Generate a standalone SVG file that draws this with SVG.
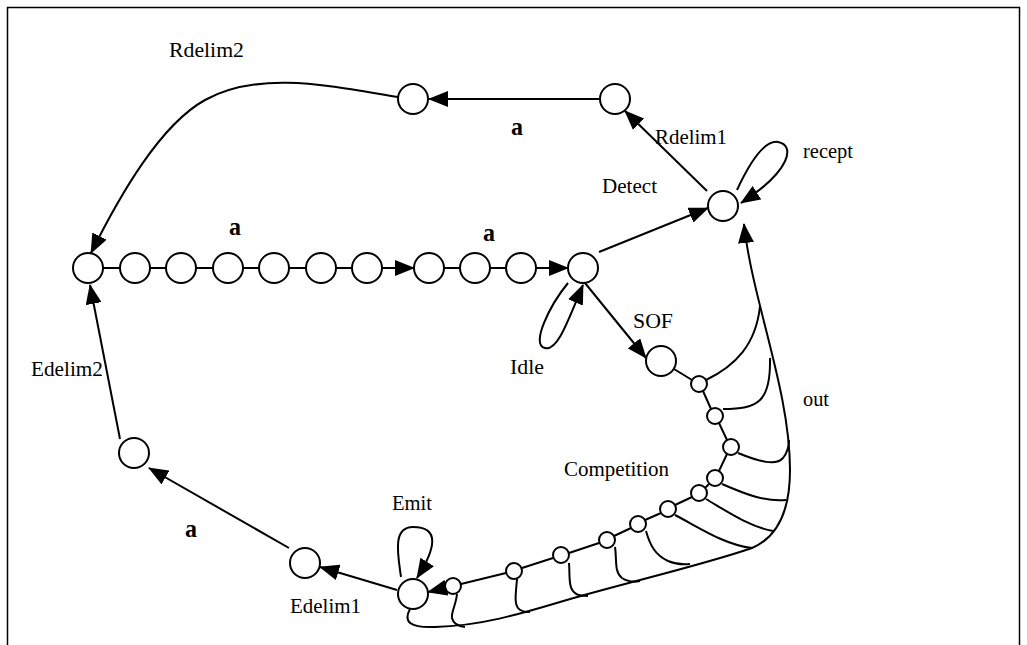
<svg xmlns="http://www.w3.org/2000/svg" width="1027" height="645" viewBox="0 0 1027 645">
<style>
.n{fill:#fff;stroke:#000;stroke-width:2}
.e{fill:none;stroke:#000;stroke-width:2}
.a{marker-end:url(#ah)}
.t{font-family:"Liberation Serif","Times New Roman",serif;font-size:22px;fill:#000}
.b{font-weight:bold;font-size:26px}
</style>
<defs>
<marker id="ah" markerUnits="userSpaceOnUse" viewBox="0 0 20 16" markerWidth="20" markerHeight="16" refX="19" refY="8" orient="auto">
<path d="M0,0 L20,8 L0,16 z" fill="#000"/>
</marker>
</defs>
<rect x="7.5" y="7.5" width="1012" height="680" fill="#fff" stroke="#000" stroke-width="1.5"/>

<g id="nodes">
<g id="row"><circle class="n" cx="88" cy="268" r="15"/><circle class="n" cx="135" cy="268" r="15"/><circle class="n" cx="181" cy="268" r="15"/><circle class="n" cx="228" cy="268" r="15"/><circle class="n" cx="274" cy="268" r="15"/><circle class="n" cx="321" cy="268" r="15"/><circle class="n" cx="367" cy="268" r="15"/><circle class="n" cx="429" cy="268" r="15"/><circle class="n" cx="475" cy="268" r="15"/><circle class="n" cx="521" cy="268" r="15"/></g>
<g id="idle"><circle class="n" cx="583" cy="268" r="15"/></g>
<g id="detect"><circle class="n" cx="723" cy="206" r="15"/></g>
<g id="rdelim1"><circle class="n" cx="615" cy="99" r="15"/></g>
<g id="rdelim2"><circle class="n" cx="413" cy="99" r="15"/></g>
<g id="sof"><circle class="n" cx="661" cy="361" r="15"/></g>
<g id="emit"><circle class="n" cx="413" cy="594" r="15"/></g>
<g id="edelim1"><circle class="n" cx="305" cy="563" r="15"/></g>
<g id="edelim2"><circle class="n" cx="134" cy="453" r="15"/></g>
<g id="competition">
<circle class="n" cx="699" cy="384" r="8"/><circle class="n" cx="715" cy="416" r="8"/><circle class="n" cx="731" cy="447" r="8"/><circle class="n" cx="715" cy="478" r="8"/><circle class="n" cx="699" cy="493" r="8"/><circle class="n" cx="668" cy="509" r="8"/><circle class="n" cx="638" cy="524" r="8"/><circle class="n" cx="607" cy="540" r="8"/><circle class="n" cx="561" cy="555" r="8"/><circle class="n" cx="514" cy="571" r="8"/><circle class="n" cx="453" cy="586" r="8"/>
</g>
</g>

<g id="connectors">
<path class="e" d="M103,268H120M150,268H166M196,268H213M243,268H259M289,268H306M336,268H352M444,268H460M490,268H506"/>
<path class="e a" d="M382,268H414"/>
<path class="e a" d="M536,268H568"/>
<path class="e a" d="M599,252L708,208"/>
<path class="e a" d="M585,283L646,358"/>
<path class="e a" d="M568,283C550,305 530,345 545,348C558,351 568,320 583,285"/>
<path class="e a" d="M737,190C750,162 765,140 778,142C795,145 792,170 741,203"/>
<path class="e a" d="M707,191L625,111"/>
<path class="e a" d="M599,99L429,99"/>
<path class="e a" d="M398,97C330,86 260,70 205,100C160,125 120,195 91,253"/>
<path class="e a" d="M120,439L90,285"/>
<path class="e a" d="M289,548L149,468"/>
<path class="e a" d="M397,590L320,567"/>
<path class="e a" d="M401,577C398,555 392,527 413,527C440,527 436,548 417,578"/>
<path class="e" d="M674,369L692,380M703,391L711,409M719,423L727,440M727,454L719,471M709,484L705,488M692,497L675,505M661,513L645,520M631,528L614,536M599,543L569,553M553,558L522,568M506,573L461,584"/>
<path class="e a" d="M445,588L428,592"/>
<path class="e a" d="M410,609C403,622 410,628 435,627C480,626 520,614 560,602C620,584 700,566 752,548C778,537 790,510 790,470C790,390 752,300 744,224"/>
<path class="e" d="M706,380C735,366 756,345 760,306"/>
<path class="e" d="M723,409C758,409 771,402 770,358"/>
<path class="e" d="M738,453C760,462 776,466 783,458C787,453 789,446 789,440"/>
<path class="e" d="M722,484C745,494 765,502 786,500"/>
<path class="e" d="M706,499C728,512 750,527 773,531"/>
<path class="e" d="M675,515C700,528 725,545 752,548"/>
<path class="e" d="M646,531C650,545 655,555 668,561C675,564 682,565 690,564"/>
<path class="e" d="M615,547C617,560 614,572 622,578C628,582 635,582 640,581"/>
<path class="e" d="M569,563C570,575 568,588 575,593C578,596 583,596 588,596"/>
<path class="e" d="M517,579C516,592 514,603 518,608C521,612 526,612 530,612"/>
<path class="e" d="M457,594C456,605 451,612 452,618C453,623 457,626 465,627"/>
</g>

<g id="labels">
<text class="t" x="169" y="57" textLength="75" lengthAdjust="spacingAndGlyphs">Rdelim2</text>
<text class="t" x="655" y="144" textLength="72" lengthAdjust="spacingAndGlyphs">Rdelim1</text>
<text class="t" x="803" y="158" textLength="50" lengthAdjust="spacingAndGlyphs">recept</text>
<text class="t" x="602" y="193" textLength="55" lengthAdjust="spacingAndGlyphs">Detect</text>
<text class="t" x="633" y="328" textLength="40" lengthAdjust="spacingAndGlyphs">SOF</text>
<text class="t" x="510" y="374" textLength="34" lengthAdjust="spacingAndGlyphs">Idle</text>
<text class="t" x="31" y="376" textLength="72" lengthAdjust="spacingAndGlyphs">Edelim2</text>
<text class="t" x="803" y="406" textLength="26" lengthAdjust="spacingAndGlyphs">out</text>
<text class="t" x="564" y="476" textLength="105" lengthAdjust="spacingAndGlyphs">Competition</text>
<text class="t" x="392" y="510" textLength="40" lengthAdjust="spacingAndGlyphs">Emit</text>
<text class="t" x="290" y="613" textLength="71" lengthAdjust="spacingAndGlyphs">Edelim1</text>
<text class="t b" x="511" y="135" textLength="12" lengthAdjust="spacingAndGlyphs">a</text>
<text class="t b" x="229" y="235" textLength="12" lengthAdjust="spacingAndGlyphs">a</text>
<text class="t b" x="483" y="241" textLength="12" lengthAdjust="spacingAndGlyphs">a</text>
<text class="t b" x="185" y="537" textLength="12" lengthAdjust="spacingAndGlyphs">a</text>
</g>
</svg>
